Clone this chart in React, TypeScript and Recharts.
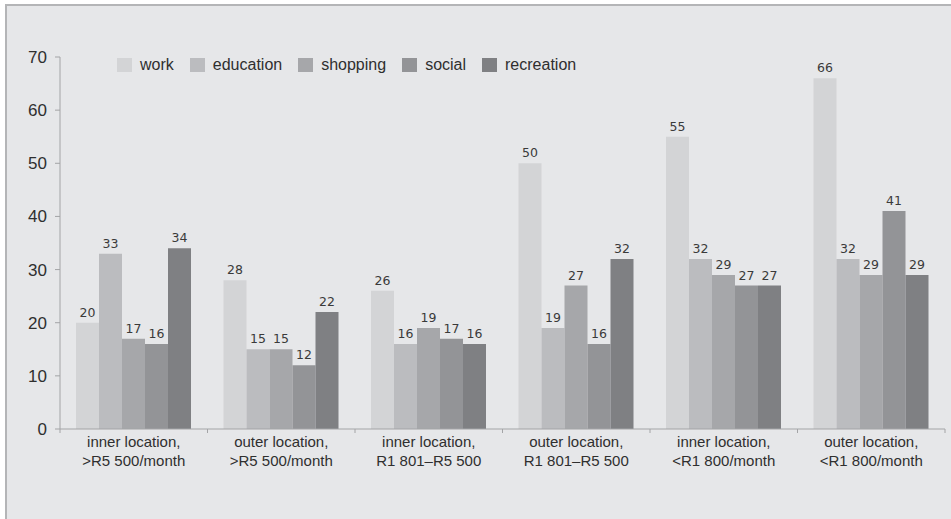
import React from 'react';
import { BarChart, Bar, XAxis, YAxis, LabelList } from 'recharts';

const categories = [
  'inner location,\n>R5 500/month',
  'outer location,\n>R5 500/month',
  'inner location,\nR1 801–R5 500',
  'outer location,\nR1 801–R5 500',
  'inner location,\n<R1 800/month',
  'outer location,\n<R1 800/month',
];

const work = [20, 28, 26, 50, 55, 66];
const education = [33, 15, 16, 19, 32, 32];
const shopping = [17, 15, 19, 27, 29, 29];
const social = [16, 12, 17, 16, 27, 41];
const recreation = [34, 22, 16, 32, 27, 29];

const yTicks = [0, 10, 20, 30, 40, 50, 60, 70];

const series = [
  { key: 'work', color: '#d3d4d6' },
  { key: 'education', color: '#bbbcbf' },
  { key: 'shopping', color: '#a6a7aa' },
  { key: 'social', color: '#939497' },
  { key: 'recreation', color: '#7f8083' },
];

const data = categories.map((name, i) => ({
  name,
  work: work[i],
  education: education[i],
  shopping: shopping[i],
  social: social[i],
  recreation: recreation[i],
}));

const FONT = '"Liberation Sans", Arial, sans-serif';
const AXIS = '#a3a4a6';
const TEXT = '#2f2f2f';

// category label on two lines, plus short ticks on the band edges
const CategoryTick = (props: any) => {
  const { x, y, payload, index, visibleTicksCount } = props;
  const half = 885 / categories.length / 2;
  const lines = String(payload.value).split('\n');
  return (
    <g>
      <line x1={x - half} x2={x - half} y1={y - 8} y2={y - 4} stroke={AXIS} />
      {index === visibleTicksCount - 1 && (
        <line x1={x + half} x2={x + half} y1={y - 8} y2={y - 4} stroke={AXIS} />
      )}
      <text x={x} y={y + 10} textAnchor="middle" fill={TEXT} fontSize={15} fontFamily={FONT}>
        {lines.map((l, i) => (
          <tspan key={i} x={x} dy={i === 0 ? 0 : 19}>
            {l}
          </tspan>
        ))}
      </text>
    </g>
  );
};

// legend in series order, swatch + name; sits over the plot so it takes no space
const LegendRow = () => (
  <div
    style={{
      position: 'absolute',
      left: 117,
      top: 56,
      display: 'flex',
      alignItems: 'center',
      fontFamily: FONT,
      fontSize: 16,
      color: TEXT,
    }}
  >
    {series.map((s) => (
      <div key={s.key} style={{ display: 'flex', alignItems: 'center', marginRight: 16 }}>
        <span style={{ width: 15, height: 14, background: s.color, display: 'inline-block', marginRight: 8 }} />
        <span>{s.key}</span>
      </div>
    ))}
  </div>
);

export default function App() {
  return (
    <div style={{ position: 'fixed', left: 0, top: 0, width: 951, height: 519, background: '#fff', overflow: 'hidden' }}>
      <div
        style={{
          position: 'absolute',
          left: 5,
          top: 4,
          width: 960,
          height: 530,
          background: '#e6e7e9',
          borderLeft: '2px solid #b4b5b7',
          borderTop: '2px solid #b4b5b7',
        }}
      />
      <div style={{ position: 'absolute', left: 0, top: 0 }}>
        <BarChart
          width={951}
          height={519}
          data={data}
          margin={{ top: 57, right: 6, bottom: 40, left: 0 }}
          barCategoryGap={16}
          barGap={0}
        >
          <XAxis
            dataKey="name"
            interval={0}
            height={50}
            axisLine={{ stroke: AXIS }}
            tickLine={false}
            tick={<CategoryTick />}
          />
          <YAxis
            width={60}
            domain={[0, 70]}
            ticks={yTicks}
            interval={0}
            axisLine={{ stroke: AXIS }}
            tickLine={{ stroke: AXIS }}
            tickSize={5}
            tickMargin={8}
            tick={{ fill: TEXT, fontSize: 17, fontFamily: FONT }}
          />
          {series.map((s) => (
            <Bar key={s.key} dataKey={s.key} fill={s.color} isAnimationActive={false}>
              <LabelList
                dataKey={s.key}
                position="top"
                offset={6}
                fill="#3a3a3a"
                fontSize={12.5}
                fontFamily='"DejaVu Sans", Verdana, sans-serif'
              />
            </Bar>
          ))}
        </BarChart>
      </div>
      <LegendRow />
    </div>
  );
}
